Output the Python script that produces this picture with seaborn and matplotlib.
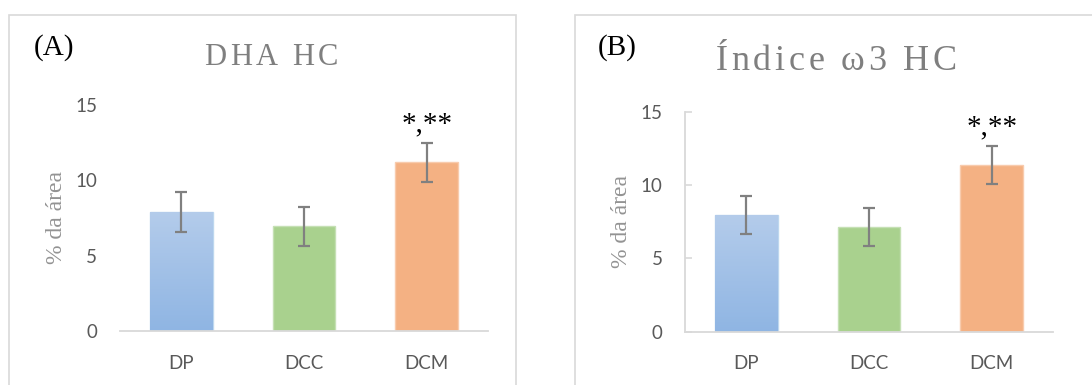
import matplotlib.pyplot as plt
import matplotlib.patches as mpatches
import matplotlib.colors as mcolors
from matplotlib.font_manager import findfont, FontProperties
from matplotlib.ft2font import FT2Font
import seaborn as sns
import numpy as np
import pandas as pd

# dados
grupos = ["DP", "DCC", "DCM"]
dha_media = [7.9, 6.95, 11.2]
dha_erro = [1.3, 1.3, 1.3]
omega3_media = [7.95, 7.15, 11.4]
omega3_erro = [1.3, 1.3, 1.3]
y_ticks = [0, 5, 10, 15]
signif = ["", "", "*,**"]

cores = ["#A6C1E8", "#A9D18E", "#F4B183"]
bordas = ["#BDD7EE", "#C5E0B4", "#F8CBAD"]

sns.set_theme(style="white")
plt.rcParams['font.family'] = ['Lato', 'DejaVu Sans']

W, H = 1092, 385
fig = plt.figure(figsize=(W / 100, H / 100), dpi=100)


def px(x0, y_top, w, h):
    # converte caixa em pixels (origem em cima) para coordenadas da figura
    return [x0 / W, 1 - (y_top + h) / H, w / W, h / H]


def texto_espacado(xc, yb, s, size, espaco, cor):
    # título com espaçamento entre letras (como no Excel)
    font = FT2Font(findfont(FontProperties(family="Liberation Serif")))
    font.set_size(size, 100)
    avancos = [font.load_char(ord(c)).linearHoriAdvance / 65536 for c in s]
    total = sum(avancos) + espaco * (len(s) - 1)
    x = xc - total / 2
    for c, a in zip(s, avancos):
        if c != " ":
            fig.text(x / W, 1 - yb / H, c, ha="left", va="baseline",
                     family="Liberation Serif", fontsize=size, color=cor)
        x += a + espaco


# molduras dos dois painéis
for x0, x1 in [(9, 516), (575, 1100)]:
    fig.patches.append(mpatches.Rectangle((x0 / W, -0.1), (x1 - x0) / W, 1 - 15 / H + 0.1,
                                          transform=fig.transFigure, fill=False,
                                          edgecolor="#D9D9D9", linewidth=1.2))


def painel(caixa, medias, erros, titulo, tit_xy, tit_size, tit_esp, letra, letra_xy, eixo_y):
    ax = fig.add_axes(caixa)
    df = pd.DataFrame({"grupo": grupos, "valor": medias})
    sns.barplot(data=df, x="grupo", y="valor", hue="grupo", palette=cores,
                legend=False, width=0.51, ax=ax, errorbar=None, saturation=1)
    for i, p in enumerate(ax.patches):
        p.set_edgecolor(bordas[i])
        p.set_linewidth(1.0)
    # gradiente na barra DP
    p0 = ax.patches[0]
    x, w, h = p0.get_x(), p0.get_width(), p0.get_height()
    grad = np.linspace(0, 1, 256).reshape(-1, 1)
    cmap = mcolors.LinearSegmentedColormap.from_list("g", ["#8FB5E3", "#B4CCEB"])
    im = ax.imshow(grad, cmap=cmap, aspect="auto", origin="lower",
                   extent=[x, x + w, 0, h], zorder=p0.get_zorder() + 0.1)
    im.set_clip_path(p0)
    ax.errorbar(range(len(grupos)), medias, yerr=erros, fmt="none",
                ecolor="#808080", elinewidth=1.6, capsize=4.5, capthick=1.6, zorder=5)
    for i, s in enumerate(signif):
        if s:
            ax.annotate(s, xy=(i, medias[i] + erros[i]), xytext=(0, 4),
                        textcoords="offset points", ha="center", va="bottom",
                        fontsize=21, family="Liberation Serif", color="black")
    ax.set_xlim(-0.5, 2.5)
    ax.set_ylim(0, 15)
    ax.set_yticks(y_ticks)
    ax.set_xlabel("")
    ax.set_ylabel("% da área", family="Liberation Serif", fontsize=17, color="#939393")
    ax.yaxis.set_label_coords(-0.145, 0.5)
    ax.tick_params(axis="both", labelsize=13.5, labelcolor="#595959")
    ax.tick_params(axis="x", length=0, pad=17)
    ax.tick_params(axis="y", pad=16)
    for s in ["top", "right"]:
        ax.spines[s].set_visible(False)
    ax.spines["bottom"].set_color("#D9D9D9")
    ax.spines["bottom"].set_linewidth(1.3)
    if eixo_y:
        ax.spines["left"].set_color("#D9D9D9")
        ax.spines["left"].set_linewidth(1.3)
        ax.tick_params(axis="y", direction="in", length=5, width=1.2, color="#D9D9D9",
                       left=True)
    else:
        ax.spines["left"].set_visible(False)
        ax.tick_params(axis="y", length=0, pad=16.5)
    ax.patch.set_alpha(0)
    texto_espacado(tit_xy[0], tit_xy[1], titulo, tit_size, tit_esp, "#7F7F7F")
    fig.text(letra_xy[0] / W, 1 - letra_xy[1] / H, letra, ha="left", va="center",
             family="Liberation Serif", fontsize=21, color="black")
    return ax


painel(px(120, 105, 368, 226), dha_media, dha_erro, "DHA HC", (271, 65), 22, 3.5,
       "(A)", (34, 48), False)
painel(px(685, 112, 368, 219.7), omega3_media, omega3_erro, "Índice ω3 HC", (836, 70), 26, 3.7,
       "(B)", (598, 48), True)

fig.savefig("out.png", dpi=100)
